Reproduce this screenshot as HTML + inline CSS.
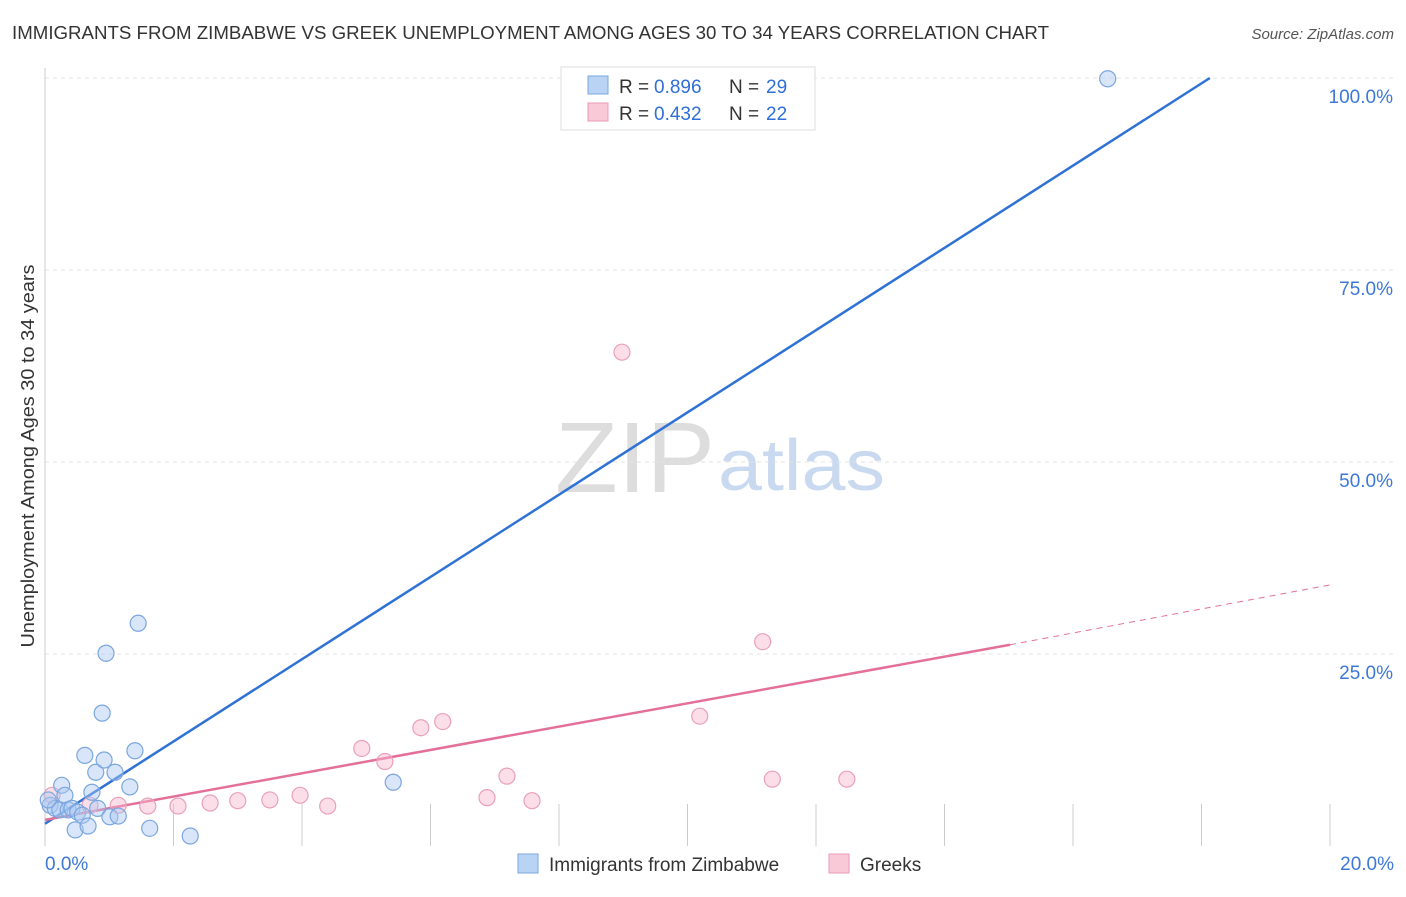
<!DOCTYPE html>
<html><head><meta charset="utf-8"><style>
body{margin:0;background:#fff;font-family:"Liberation Sans",sans-serif;}
svg text{font-family:"Liberation Sans",sans-serif;}
</style></head><body>
<svg id="chart" width="1406" height="892">
<text x="12" y="39" font-size="18" fill="#333" textLength="1037" lengthAdjust="spacingAndGlyphs">IMMIGRANTS FROM ZIMBABWE VS GREEK UNEMPLOYMENT AMONG AGES 30 TO 34 YEARS CORRELATION CHART</text>
<text x="1394" y="39" font-size="15" fill="#555" font-style="italic" text-anchor="end">Source: ZipAtlas.com</text>
<g><text x="555" y="492" font-size="100" fill="#ddd" font-family="Liberation Serif" textLength="160" lengthAdjust="spacingAndGlyphs">ZIP</text><text x="718" y="490" font-size="72" fill="#c9d9f0" textLength="167" lengthAdjust="spacingAndGlyphs">atlas</text></g>
<g id="grid"></g><g id="axes"></g><g id="lines"></g><g id="pts"></g>
<text transform="translate(34,456) rotate(-90)" font-size="18" fill="#333" text-anchor="middle" textLength="383" lengthAdjust="spacingAndGlyphs">Unemployment Among Ages 30 to 34 years</text>
<g>
<rect x="561" y="67" width="254" height="63" fill="#fff" stroke="#ddd"/>
<rect x="588" y="76" width="20" height="18" fill="#b9d3f5" stroke="#7aa7e0"/>
<text x="619" y="93" font-size="19" fill="#333">R = </text><text x="654" y="93" font-size="19" fill="#2f6fd6">0.896</text>
<text x="729" y="93" font-size="19" fill="#333">N = </text><text x="766" y="93" font-size="19" fill="#2f6fd6">29</text>
<rect x="588" y="103" width="20" height="18" fill="#f9c9d8" stroke="#e99ab4"/>
<text x="619" y="120" font-size="19" fill="#333">R = </text><text x="654" y="120" font-size="19" fill="#2f6fd6">0.432</text>
<text x="729" y="120" font-size="19" fill="#333">N = </text><text x="766" y="120" font-size="19" fill="#2f6fd6">22</text>
</g>
<g>
<rect x="518" y="854" width="20" height="19" fill="#b9d3f5" stroke="#7aa7e0"/>
<text x="549" y="871" font-size="19" fill="#333">Immigrants from Zimbabwe</text>
<rect x="829" y="854" width="20" height="19" fill="#f9c9d8" stroke="#e99ab4"/>
<text x="860" y="871" font-size="19" fill="#333">Greeks</text>
</g>
</svg>
<script>
const blueX=[0.08,0.16,0.23,0.26,0.31,0.36,0.42,0.47,0.51,0.58,0.62,0.67,0.73,0.79,0.82,0.89,0.92,0.95,1.01,1.09,1.14,1.32,1.40,1.45,1.63,2.26,5.42,16.54,0.05];
const blueY=[5.3,4.9,4.7,7.9,6.6,4.7,4.9,2.1,4.4,4.0,11.8,2.6,7.0,9.6,4.9,17.3,11.2,25.1,3.8,9.6,3.9,7.7,12.4,29.0,2.3,1.3,8.3,99.9,6.0];
const pinkX=[0.11,0.70,1.14,1.60,2.07,2.57,3.00,3.50,3.97,4.40,4.93,5.29,5.85,6.19,6.88,7.19,7.58,8.98,10.19,11.17,11.32,12.48];
const pinkY=[6.6,5.3,5.3,5.2,5.2,5.6,5.9,6.0,6.6,5.2,12.7,11.0,15.4,16.2,6.3,9.1,5.9,64.3,16.9,26.6,8.7,8.7];
const yTicks=[25,50,75,100];
const yTickLabels=["25.0%","50.0%","75.0%","100.0%"];
const xTicks=[0,2,4,6,8,10,12,14,16,18,20];
const blueFit=[[0,2.9],[18.13,100]];
const pinkFit=[[0,3.4],[15.02,26.2]];
const pinkDash=[[15.02,26.2],[20,34]];
const X=v=>45+v/20*1285, Y=v=>846-v/100*768;
const NS="http://www.w3.org/2000/svg";
function mk(p,t,a){const e=document.createElementNS(NS,t);for(const k in a)e.setAttribute(k,a[k]);document.getElementById(p).appendChild(e);return e;}
yTicks.forEach((t,i)=>{
 const l=mk('grid','line',{x1:45,x2:1394,y1:Y(t),y2:Y(t),stroke:'#e3e3e3','stroke-dasharray':'4,4'});
 
 
 const tx=mk('grid','text',{x:1393,y:Y(t)+25,'font-size':19,fill:'#3d78d8','text-anchor':'end'});
 tx.textContent=yTickLabels[i];
 
 
});
let ax=mk('axes','line',{x1:45,x2:45,y1:68,y2:846,stroke:'#ccc'});


xTicks.forEach(t=>{if(t===0)return;
 const l=mk('axes','line',{x1:X(t),x2:X(t),y1:804,y2:846,stroke:'#ccc'});
 
 
});
let t0=mk('axes','text',{x:45,y:870,'font-size':19,fill:'#3d78d8'});t0.textContent='0.0%';


let t1=mk('axes','text',{x:1394,y:870,'font-size':19,fill:'#3d78d8','text-anchor':'end'});t1.textContent='20.0%';


function ln(f,c,d,n){const e=mk('lines','line',{x1:X(f[0][0]),y1:Y(f[0][1]),x2:X(f[1][0]),y2:Y(f[1][1]),stroke:c,'stroke-width':d?1:2.5,'stroke-dasharray':d?'6,5':'none'});
 
 }
pinkX.forEach((x,i)=>{const c=mk('pts','circle',{cx:X(x),cy:Y(pinkY[i]),r:8,fill:'rgba(246,182,203,0.45)',stroke:'#eaa0ba','stroke-width':1.2});
 
 });
blueX.forEach((x,i)=>{const c=mk('pts','circle',{cx:X(x),cy:Y(blueY[i]),r:8,fill:'rgba(170,200,242,0.45)',stroke:'#7aa6df','stroke-width':1.2});
 
 });
ln(blueFit,'#2f72d6',false,'zimbabwe-trend-line');
ln(pinkFit,'#e4709a',false,'greeks-trend-line');
ln(pinkDash,'#e4709a',true,'greeks-trend-extension');
</script>
</body></html>
